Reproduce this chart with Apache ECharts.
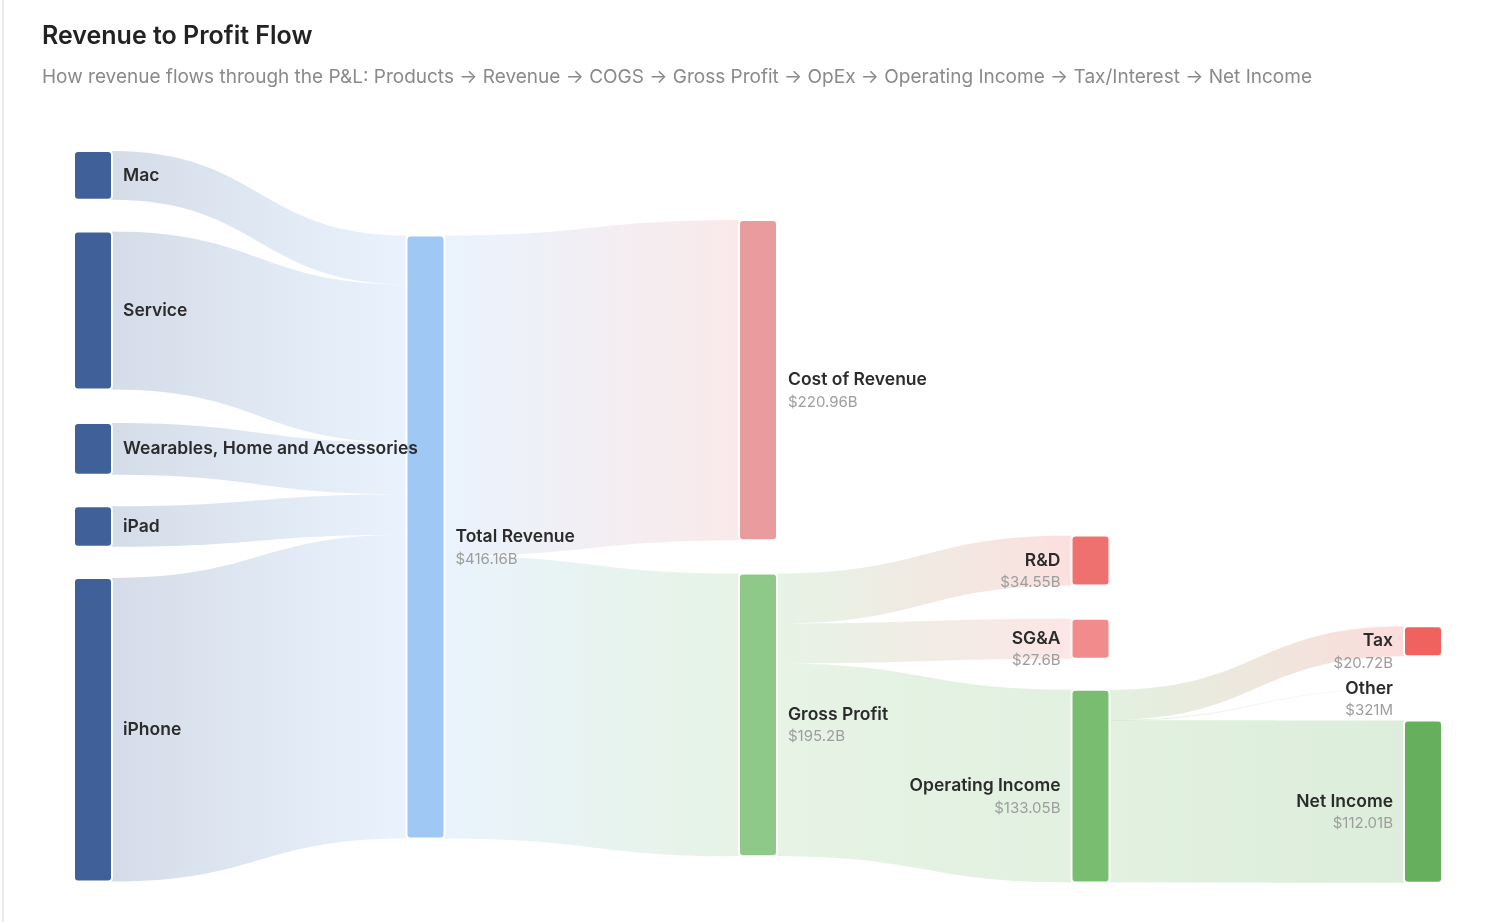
<!doctype html>
<html>
<head>
<meta charset="utf-8">
<style>
  html, body { margin: 0; padding: 0; background: #fff; }
  #card { position: absolute; left: 2px; top: 0; width: 1498px; height: 922px; border-left: 2px solid #ececec; }
  #main { width: 1496px; height: 922px; }
</style>
</head>
<body>
<div id="card"><div id="main"></div></div>
<script src="https://cdn.jsdelivr.net/npm/echarts@6/dist/echarts.min.js"></script>
<script>
// revenue by product line, $B
var products = ['Mac', 'Service', 'Wearables, Home and Accessories', 'iPad', 'iPhone'];
var productRevenue = [33.71, 109.16, 35.69, 28.02, 209.58];
var totalName = 'Total Revenue';
var totalRevenue = 416.16;
// revenue -> cost / gross profit
var costSplit = ['Cost of Revenue', 'Gross Profit'];
var costSplitValues = [220.96, 195.2];
// gross profit -> opex / operating income
var opexSplit = ['R&D', 'SG&A', 'Operating Income'];
var opexSplitValues = [34.55, 27.6, 133.05];
// operating income -> tax / other / net income
var incomeSplit = ['Tax', 'Other', 'Net Income'];
var incomeSplitValues = [20.72, 0.321, 112.01];

// vertical placement of each node inside the layout box (0 = top, 1 = bottom)
var nodePlace = {
  'Mac': 0, 'Service': 0.11, 'Wearables, Home and Accessories': 0.372, 'iPad': 0.486, 'iPhone': 0.584,
  'Total Revenue': 0.1156,
  'Cost of Revenue': 0.0944, 'Gross Profit': 0.578,
  'R&D': 0.526, 'SG&A': 0.640, 'Operating Income': 0.737,
  'Tax': 0.650, 'Other': 0.735, 'Net Income': 0.779
};

var colors = {
  'Mac': '#40609a', 'Service': '#40609a', 'Wearables, Home and Accessories': '#40609a',
  'iPad': '#40609a', 'iPhone': '#40609a',
  'Total Revenue': '#9fc8f5',
  'Cost of Revenue': '#e89c9e', 'Gross Profit': '#8ec98a',
  'R&D': '#ee7170', 'SG&A': '#f28b8b', 'Operating Income': '#79bd71',
  'Tax': '#ef625d', 'Other': '#f4f4f4', 'Net Income': '#66b05d'
};

function fmt(v) {
  if (v < 1) return '$' + Math.round(v * 1000) + 'M';
  return '$' + parseFloat(v.toFixed(2)) + 'B';
}

var valueOf = {};
valueOf[totalName] = totalRevenue;
costSplit.forEach(function (n, i) { valueOf[n] = costSplitValues[i]; });
opexSplit.forEach(function (n, i) { valueOf[n] = opexSplitValues[i]; });
incomeSplit.forEach(function (n, i) { valueOf[n] = incomeSplitValues[i]; });

var rich = {
  n: { fontSize: 17.5, fontWeight: 600, color: '#2b2b2b', lineHeight: 22, fontFamily: 'Inter' },
  v: { fontSize: 15, color: '#9d9d9d', lineHeight: 22, fontFamily: 'Inter' }
};

function node(name, side, withValue) {
  return {
    name: name,
    localY: nodePlace[name],
    itemStyle: { color: colors[name] },
    label: {
      position: side,
      align: side == 'left' ? 'right' : 'left',
      offset: withValue ? [0, 11] : [0, 0],
      formatter: withValue ? '{n|' + name + '}\n{v|' + fmt(valueOf[name]) + '}' : '{n|' + name + '}'
    }
  };
}

var nodes = [];
var links = [];
products.forEach(function (p, i) {
  nodes.push(node(p, 'right', false));
  links.push({ source: p, target: totalName, value: productRevenue[i] });
});
nodes.push(node(totalName, 'right', true));
costSplit.forEach(function (n, i) {
  nodes.push(node(n, 'right', true));
  links.push({ source: totalName, target: n, value: costSplitValues[i] });
});
opexSplit.forEach(function (n, i) {
  nodes.push(node(n, 'left', true));
  links.push({ source: 'Gross Profit', target: n, value: opexSplitValues[i] });
});
incomeSplit.forEach(function (n, i) {
  nodes.push(node(n, 'left', true));
  links.push({ source: 'Operating Income', target: n, value: incomeSplitValues[i] });
});

var chart = echarts.init(document.getElementById('main'));
chart.setOption({
  animation: false,
  title: {
    text: 'Revenue to Profit Flow',
    subtext: 'How revenue flows through the P&L: Products → Revenue → COGS → Gross Profit → OpEx → Operating Income → Tax/Interest → Net Income',
    left: 33,
    top: 19,
    itemGap: 19,
    textStyle: { fontSize: 25, fontWeight: 600, color: '#222', fontFamily: 'Inter' },
    subtextStyle: { fontSize: 19, color: '#8a8a8a', fontFamily: 'Inter' }
  },
  series: [{
    type: 'sankey',
    left: 70,
    right: 58,
    top: 151,
    bottom: 40,
    nodeWidth: 38,
    nodeGap: 32,
    nodeAlign: 'left',
    layoutIterations: 0,
    draggable: false,
    emphasis: { disabled: true },
    itemStyle: { borderColor: '#fff', borderWidth: 2, borderRadius: 4 },
    lineStyle: { color: 'gradient', opacity: 0.22, curveness: 0.5 },
    label: { distance: 10, rich: rich },
    data: nodes,
    links: links
  }]
});
</script>
</body>
</html>
